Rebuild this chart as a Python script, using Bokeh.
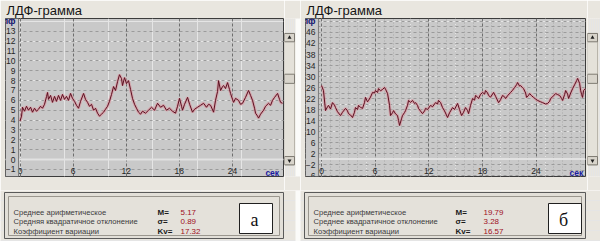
from bokeh.plotting import figure
from bokeh.layouts import row, column
from bokeh.models import FixedTicker, LinearAxis, Span, Range1d, Grid
from bokeh.embed import file_html
from bokeh.resources import INLINE
from bokeh.core.properties import value

# ---------------- data ----------------
TITLE = "ЛДФ-грамма"
Y_UNIT = "пф"
X_UNIT = "сек"
x_ticks = [0, 6, 12, 18, 24]
a_y_ticks = list(range(-1, 14))
b_y_ticks = list(range(-6, 47, 4))

a_time = [0.00, 0.17, 0.28, 0.51, 0.73, 0.96, 1.19, 1.41, 1.64, 1.86, 2.09, 2.32, 2.54, 2.77,
          3.00, 3.11, 3.22, 3.45, 3.67, 3.90, 4.12, 4.35, 4.58, 4.80, 5.03, 5.25, 5.48, 5.71,
          5.93, 6.16, 6.38, 6.61, 6.84, 7.18, 7.40, 7.63, 7.85, 8.08, 8.31, 8.53, 8.76, 8.98,
          9.21, 9.44, 9.66, 9.89, 10.11, 10.34, 10.57, 10.79, 11.02, 11.24, 11.47, 11.58, 11.81,
          12.03, 12.26, 12.49, 12.71, 12.94, 13.16, 13.39, 13.62, 13.84, 14.18, 14.52, 14.86,
          15.20, 15.54, 15.88, 16.22, 16.55, 16.89, 17.23, 17.57, 17.80, 18.02, 18.25, 18.36,
          18.59, 18.93, 19.16, 19.49, 19.72, 20.06, 20.40, 20.74, 21.07, 21.30, 21.53, 21.87,
          22.09, 22.32, 22.43, 22.66, 22.88, 23.00, 23.22, 23.45, 23.67, 23.79, 24.01, 24.13,
          24.35, 24.69, 24.92, 25.14, 25.48, 25.82, 26.05, 26.27, 26.50, 26.61, 26.84, 26.95,
          27.18, 27.52, 27.74, 28.08, 28.31, 28.53, 28.76, 29.10, 29.32, 29.44, 29.66]
a_flow = [3.9, 4.4, 5.3, 4.9, 5.4, 5.0, 5.3, 4.8, 5.2, 4.9, 5.1, 5.4, 5.2, 5.6,
          6.4, 6.8, 6.1, 6.5, 5.8, 6.4, 5.9, 6.5, 6.0, 6.6, 6.1, 6.4, 6.0, 6.7,
          6.2, 5.9, 5.5, 5.2, 5.9, 6.7, 6.1, 5.8, 5.4, 5.6, 5.0, 5.2, 4.7, 4.4,
          4.6, 4.8, 5.1, 5.4, 5.9, 6.6, 7.4, 7.0, 7.9, 8.6, 8.2, 7.5, 8.3,
          7.7, 8.0, 7.1, 6.2, 5.6, 5.2, 4.8, 4.6, 4.9, 4.7, 5.0, 5.3,
          5.0, 5.7, 5.3, 5.5, 5.0, 5.2, 4.9, 4.7, 5.4, 6.2, 5.4, 5.0,
          5.6, 6.3, 5.6, 4.8, 5.1, 5.3, 5.5, 5.7, 5.3, 5.6, 5.5, 4.8,
          6.0, 6.9, 8.0, 7.0, 7.4, 7.5, 7.2, 7.8, 7.1, 6.7, 6.1, 5.8,
          6.2, 6.0, 5.6, 5.7, 6.3, 7.0, 6.5, 6.0, 5.2, 4.7, 4.4, 4.2,
          4.6, 5.0, 5.4, 5.7, 5.5, 6.0, 6.3, 6.7, 6.1, 5.8, 5.7]

b_time = [0.00, 0.22, 0.45, 0.67, 0.78, 1.01, 1.23, 1.45, 1.57, 1.79, 2.13, 2.35, 2.69, 2.91,
          3.02, 3.25, 3.47, 3.69, 3.80, 4.03, 4.14, 4.36, 4.59, 4.81, 4.92, 5.15, 5.26, 5.48,
          5.71, 5.93, 6.04, 6.27, 6.38, 6.60, 6.83, 7.05, 7.16, 7.39, 7.61, 7.72, 7.94, 8.06,
          8.28, 8.50, 8.62, 8.73, 8.95, 9.06, 9.29, 9.40, 9.62, 9.74, 9.96, 10.18, 10.41, 10.52,
          10.74, 10.85, 11.08, 11.30, 11.53, 11.64, 11.86, 12.20, 12.42, 12.76, 12.98, 13.09,
          13.32, 13.54, 13.76, 14.10, 14.32, 14.66, 14.88, 15.22, 15.44, 15.67, 15.89, 16.11,
          16.34, 16.45, 16.67, 16.90, 17.12, 17.23, 17.46, 17.57, 17.79, 18.02, 18.24, 18.35,
          18.58, 18.69, 18.91, 19.25, 19.47, 19.81, 20.03, 20.25, 20.48, 20.59, 20.81, 21.15,
          21.37, 21.60, 21.82, 21.93, 22.16, 22.27, 22.49, 22.60, 22.83, 22.94, 23.17, 23.28,
          23.50, 23.72, 23.95, 24.17, 24.51, 24.73, 25.07, 25.29, 25.52, 25.63, 25.85, 26.19,
          26.42, 26.64, 26.86, 26.97, 27.20, 27.31, 27.53, 27.64, 27.87, 28.09, 28.31, 28.54,
          28.65, 28.76, 28.87, 28.98, 29.09, 29.20, 29.31, 29.53]
b_flow = [26.7, 24.9, 17.6, 19.0, 19.5, 18.2, 20.5, 19.6, 18.7, 17.2, 15.8, 17.0, 18.4, 17.5,
          16.5, 16.0, 15.1, 17.0, 18.7, 18.0, 19.5, 18.8, 18.4, 20.5, 22.4, 20.8, 21.3, 22.5,
          24.2, 24.0, 24.9, 24.2, 25.6, 24.8, 25.3, 26.0, 25.4, 23.8, 19.5, 15.8, 16.8, 17.6,
          16.4, 15.8, 14.0, 12.2, 14.6, 15.8, 16.9, 17.6, 19.5, 21.3, 20.6, 21.3, 20.2, 20.5,
          19.5, 18.4, 17.4, 16.5, 17.5, 18.4, 18.0, 19.5, 19.0, 20.5, 20.0, 21.3,
          20.5, 18.7, 17.5, 15.1, 16.8, 18.7, 18.0, 20.2, 18.0, 15.8, 17.0, 18.7,
          17.6, 16.5, 19.5, 22.0, 21.4, 23.1, 22.5, 22.0, 23.5, 24.2, 23.6, 24.9,
          24.0, 23.1, 22.5, 24.2, 22.8, 20.5, 21.6, 23.1, 22.6, 22.0, 23.0, 24.2,
          25.0, 26.0, 27.0, 27.8, 26.5, 26.7, 25.9, 25.6, 24.0, 22.4, 23.2, 23.8,
          23.0, 22.4, 21.8, 21.3, 20.8, 20.5, 20.0, 20.2, 21.0, 22.0, 22.6, 23.8,
          23.4, 23.1, 22.0, 21.3, 23.5, 24.9, 23.6, 22.0, 24.0, 25.6, 27.0, 28.5,
          29.3, 28.4, 27.5, 25.0, 23.5, 22.4, 24.9, 25.6]

a_stat_names = ["Среднее арифметическое", "Средняя квадратичное отклонение", "Коэффициент вариации"]
b_stat_names = ["Среднее арифметическое", "Среднее квадратичное отклонение", "Коэффициент вариации"]
stat_symbols = ["M=", "σ=", "Kv="]
a_stat_values = ["5.17", "0.89", "17.32"]
b_stat_values = ["19.79", "3.28", "16.57"]
panel_letters = ["а", "б"]

# ---------------- styling ----------------
WIN_BG = "#e9e6df"
PLOT_BG = "#c9c9c9"
FONT = value("Liberation Sans")


def chart(width, right_border, xr, yr, sep_x, yticks, ygrid_ticks, unit_tick, xlab_y, t, v, minor_x):
    p = figure(width=width, height=190, x_range=Range1d(*xr), y_range=Range1d(*yr),
               output_backend="svg", toolbar_location=None,
               x_axis_location=None, y_axis_location=None,
               min_border_left=5, min_border_right=right_border, min_border_top=18, min_border_bottom=14,
               background_fill_color=PLOT_BG, border_fill_color=WIN_BG,
               outline_line_color="#3c3c3c", outline_line_width=1)
    p.title.text = TITLE
    p.title.text_font = "Liberation Sans"
    p.title.text_font_size = "13px"
    p.title.text_font_style = "normal"
    p.title.text_color = "#151515"
    p.title.standoff = 1
    p.title.offset = 1

    if minor_x:
        p.add_layout(Grid(dimension=0, ticker=FixedTicker(ticks=minor_x), grid_line_color="#a9a9a9",
                          grid_line_dash="1 2"), "center")
    p.add_layout(Grid(dimension=1, ticker=FixedTicker(ticks=ygrid_ticks), grid_line_color="#9b9b9b",
                      grid_line_dash="3 3"), "center")
    p.add_layout(Grid(dimension=0, ticker=FixedTicker(ticks=x_ticks), grid_line_color="#6e6e6e",
                      grid_line_dash="3 2"), "center")
    p.add_layout(Span(location=0, dimension="width", line_color="#e2e2e2", line_width=2, level="underlay"))

    # label column
    p.quad(left=xr[0], right=sep_x, bottom=yr[0], top=yr[1], fill_color=PLOT_BG, line_color=None)
    p.add_layout(Span(location=sep_x, dimension="height", line_color="#7d7d7d", line_width=1))

    p.line(t, v, line_color="#d89aa3", line_width=3, line_alpha=0.75)
    p.line(t, v, line_color="#5a0f1f", line_width=1)

    common = dict(axis_line_color=None, major_tick_line_color=None, minor_tick_line_color=None,
                  major_tick_out=0, major_tick_in=0, minor_tick_out=0, minor_tick_in=0,
                  major_label_text_font="Liberation Sans", major_label_text_font_size="8.5px")
    yax = LinearAxis(fixed_location=sep_x, ticker=FixedTicker(ticks=yticks), major_label_standoff=3,
                     major_label_text_color="#262626", **common)
    p.add_layout(yax, "left")
    yunit = LinearAxis(fixed_location=sep_x, ticker=FixedTicker(ticks=[unit_tick]), major_label_standoff=3,
                       major_label_overrides={unit_tick: Y_UNIT}, major_label_text_color="#10106e",
                       major_label_text_font_style="bold", **common)
    p.add_layout(yunit, "left")
    xax = LinearAxis(fixed_location=xlab_y, ticker=FixedTicker(ticks=x_ticks), major_label_standoff=0,
                     major_label_text_color="#262626", **common)
    p.add_layout(xax, "below")
    xunit = LinearAxis(fixed_location=xlab_y, ticker=FixedTicker(ticks=[28.5]), major_label_standoff=0,
                       major_label_overrides={28.5: X_UNIT}, major_label_text_color="#1a1aa0",
                       major_label_text_font_style="bold", **common)
    p.add_layout(xunit, "below")
    return p


def scrollbar(width, gap):
    s = figure(width=width, height=190, x_range=Range1d(0, width), y_range=Range1d(190, 0),
               output_backend="svg", toolbar_location=None, x_axis_location=None, y_axis_location=None,
               min_border=0, background_fill_color=WIN_BG, border_fill_color=WIN_BG, outline_line_color=None)
    if gap:
        s.quad(left=[11], right=[width], top=[0], bottom=[190], fill_color="#fbfbf9", line_color=None)
    s.quad(left=[0], right=[10], top=[18], bottom=[176], fill_color="#e4e1d9", line_color="#b8b4aa")
    s.quad(left=[0, 0, 0], right=[10, 10, 10], top=[18, 166, 67], bottom=[28, 176, 78],
           fill_color="#d8d4cb", line_color="#7e7a72")
    s.scatter(x=[5, 5], y=[23, 171], marker="triangle", size=4, angle=[0, 3.14159],
              fill_color="#202020", line_color=None)
    return s


def stats(names, values, letter, box_right, sym_x, val_x, letter_box, gap):
    st = figure(width=300, height=51, x_range=Range1d(0, 300), y_range=Range1d(51, 0),
                output_backend="svg", toolbar_location=None, x_axis_location=None, y_axis_location=None,
                min_border=0, background_fill_color=WIN_BG, border_fill_color=WIN_BG, outline_line_color=None)
    if gap:
        st.quad(left=[295], right=[300], top=[0], bottom=[51], fill_color="#fbfbf9", line_color=None)
    st.quad(left=[4], right=[box_right], top=[2], bottom=[48], fill_color="#e2dfd8", line_color="#5a5a5a")
    st.quad(left=[8], right=[box_right - 4], top=[6], bottom=[45], fill_color="#e4e1da", line_color="#9a968e")
    ys = [21.5, 31, 40.5]
    st.text(x=[13] * 3, y=ys, text=names, text_font=FONT, text_font_size="7.6px",
            text_color="#3a3a3a", text_baseline="middle")
    st.text(x=[sym_x] * 3, y=ys, text=stat_symbols, text_font=FONT, text_font_size="8px",
            text_font_style="bold", text_color="#1a1a1a", text_baseline="middle")
    st.text(x=[val_x] * 3, y=ys, text=values, text_font=FONT, text_font_size="8px",
            text_color="#a0101e", text_baseline="middle")
    l, r = letter_box
    st.quad(left=[l], right=[r], top=[13], bottom=[43], fill_color="#ffffff", line_color="#202020")
    st.text(x=[(l + r) / 2 - 1.5], y=[29], text=[letter], text_font=value("Liberation Serif"),
            text_font_size="18px", text_color="#111111", text_align="center", text_baseline="middle")
    return st


# panel а
a_chart = chart(284, 1, (-1.64, 29.77), (-1.72, 14.30), -0.17, a_y_ticks, a_y_ticks, 14, -0.85,
                a_time, a_flow, None)
a_scroll = scrollbar(16, True)
a_stats = stats(a_stat_names, a_stat_values, panel_letters[0], 283, 157, 180, (239, 272), True)

# panel б
b_chart = chart(287, 2, (-1.79, 29.53), (-6.36, 51.09), -0.34, b_y_ticks, list(range(-6, 51, 2)), 50, -3.2,
                b_time, b_flow, list(range(0, 30)))
b_scroll = scrollbar(13, False)
b_stats = stats(b_stat_names, b_stat_values, panel_letters[1], 285, 155, 183, (248, 281), False)

layout = row(column(row(a_chart, a_scroll), a_stats), column(row(b_chart, b_scroll), b_stats))
open("out.html", "w").write(file_html(layout, INLINE))
